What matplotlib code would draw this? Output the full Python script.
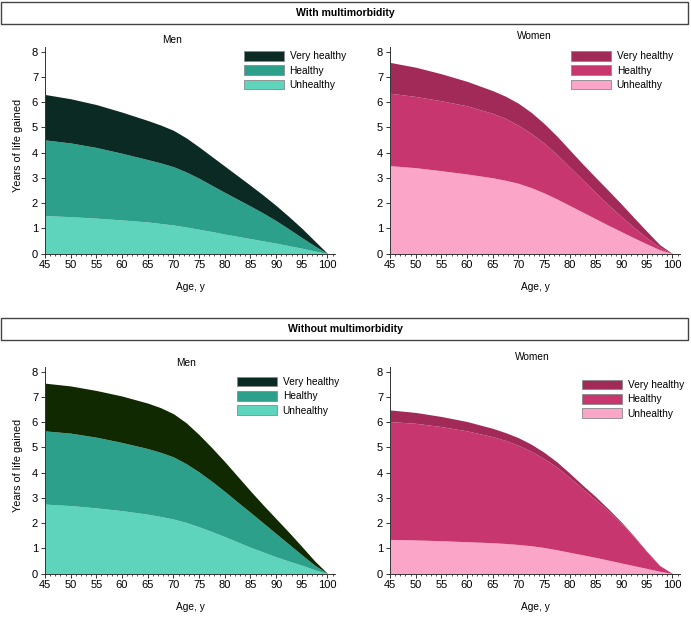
import matplotlib
matplotlib.use("Agg")
import matplotlib.pyplot as plt
from matplotlib.patches import Patch, Rectangle
from matplotlib.ticker import MultipleLocator

plt.rcParams["font.family"] = ["Liberation Sans", "DejaVu Sans"]

ages = [45, 50, 55, 60, 65, 67.5, 70, 72.5, 75, 77.5, 80, 82.5, 85, 87.5, 90, 92.5, 95, 97.5, 100]
categories = ["Very healthy", "Healthy", "Unhealthy"]

# years of life gained: upper edge of each band (unhealthy, + healthy, + very healthy)
men_mm_unhealthy = [1.50, 1.46, 1.40, 1.33, 1.25, 1.19, 1.13, 1.05, 0.96, 0.87, 0.77, 0.68, 0.59, 0.50, 0.41, 0.31, 0.21, 0.10, 0]
men_mm_healthy = [4.50, 4.38, 4.20, 3.97, 3.72, 3.59, 3.44, 3.23, 2.98, 2.70, 2.42, 2.15, 1.88, 1.60, 1.30, 0.97, 0.63, 0.30, 0]
men_mm_total = [6.30, 6.13, 5.90, 5.60, 5.27, 5.09, 4.88, 4.58, 4.22, 3.84, 3.46, 3.08, 2.70, 2.31, 1.90, 1.46, 1.00, 0.50, 0]

women_mm_unhealthy = [3.48, 3.40, 3.28, 3.15, 3.00, 2.90, 2.78, 2.61, 2.40, 2.16, 1.90, 1.64, 1.38, 1.12, 0.87, 0.62, 0.38, 0.15, 0]
women_mm_healthy = [6.35, 6.22, 6.05, 5.85, 5.55, 5.35, 5.08, 4.76, 4.37, 3.92, 3.42, 2.92, 2.42, 1.93, 1.47, 1.03, 0.62, 0.25, 0]
women_mm_total = [7.57, 7.38, 7.12, 6.82, 6.45, 6.23, 5.95, 5.59, 5.15, 4.65, 4.10, 3.55, 3.02, 2.50, 1.97, 1.42, 0.88, 0.35, 0]

men_nomm_unhealthy = [2.75, 2.69, 2.60, 2.49, 2.35, 2.26, 2.16, 2.02, 1.85, 1.66, 1.46, 1.25, 1.04, 0.85, 0.66, 0.49, 0.33, 0.15, 0]
men_nomm_healthy = [5.65, 5.56, 5.40, 5.19, 4.95, 4.80, 4.62, 4.35, 4.02, 3.65, 3.25, 2.83, 2.42, 2.00, 1.58, 1.16, 0.74, 0.33, 0]
men_nomm_total = [7.54, 7.43, 7.25, 7.03, 6.75, 6.57, 6.33, 5.97, 5.50, 4.98, 4.43, 3.85, 3.27, 2.71, 2.17, 1.63, 1.07, 0.50, 0]

women_nomm_unhealthy = [1.35, 1.33, 1.30, 1.26, 1.22, 1.19, 1.15, 1.10, 1.03, 0.94, 0.84, 0.74, 0.64, 0.53, 0.42, 0.31, 0.20, 0.09, 0]
women_nomm_healthy = [6.02, 5.95, 5.82, 5.65, 5.42, 5.27, 5.08, 4.84, 4.55, 4.21, 3.80, 3.36, 2.93, 2.48, 2.00, 1.45, 0.86, 0.31, 0]
women_nomm_total = [6.48, 6.38, 6.22, 6.02, 5.75, 5.58, 5.38, 5.12, 4.80, 4.42, 3.97, 3.50, 3.05, 2.56, 2.05, 1.48, 0.88, 0.32, 0]

men_colors = ["#0c2a24", "#2ca08a", "#5fd4bc"]
men_colors_nomm = ["#102900", "#2ca08a", "#5fd4bc"]
women_colors = ["#a12a58", "#c8366f", "#fba5c8"]

W, H = 691, 619
fig = plt.figure(figsize=(W / 100, H / 100), dpi=100)

FS = 7.3


def px_rect(x, y_top, w, h):
    return [x / W, 1 - (y_top + h) / H, w / W, h / H]


def panel(rect, title, title_xy, unhealthy, healthy, total, fill_cols, leg_cols, leg_xy, ylabel):
    ax = fig.add_axes(rect)
    ax.fill_between(ages, 0, unhealthy, color=fill_cols[2], linewidth=0)
    ax.fill_between(ages, unhealthy, healthy, color=fill_cols[1], linewidth=0)
    ax.fill_between(ages, healthy, total, color=fill_cols[0], linewidth=0)
    ax.set_xlim(45, 101.5)
    ax.set_ylim(0, 8.2)
    ax.set_xticks(range(45, 101, 5))
    ax.xaxis.set_minor_locator(MultipleLocator(1))
    ax.set_yticks(range(0, 9))
    for s in ["top", "right"]:
        ax.spines[s].set_visible(False)
    for s in ["left", "bottom"]:
        ax.spines[s].set_linewidth(0.7)
        ax.spines[s].set_color("#333333")
    ax.tick_params(which="major", length=3, width=0.7, color="#333333",
                   labelsize=8, pad=2)
    ax.tick_params(which="minor", length=1.6, width=0.6, color="#333333")
    ax.set_xlabel("Age, y", fontsize=FS, va="center")
    ax.xaxis.set_label_coords(0.5, -34 / 207)
    if ylabel:
        ax.set_ylabel("Years of life gained", fontsize=7.8, va="center")
        ax.yaxis.set_label_coords(-27 / 290, 0.52)
    fig.text(title_xy[0] / W, 1 - title_xy[1] / H, title, fontsize=FS,
             ha="center", va="center")
    handles = [Patch(facecolor=c, edgecolor="#8a8a8a", linewidth=0.6) for c in leg_cols]
    ax.legend(handles, categories, loc="upper left",
              bbox_to_anchor=(leg_xy[0] / W, 1 - leg_xy[1] / H),
              bbox_transform=fig.transFigure, frameon=False, fontsize=FS,
              handlelength=3.9, handleheight=1.1, handletextpad=0.6,
              labelspacing=0.4, borderpad=0, borderaxespad=0)
    return ax


panel(px_rect(45, 46.5, 290.2, 207), "Men", (172, 40),
      men_mm_unhealthy, men_mm_healthy, men_mm_total, men_colors, men_colors,
      (244, 51), True)
panel(px_rect(390, 46.5, 290.2, 207), "Women", (534, 36),
      women_mm_unhealthy, women_mm_healthy, women_mm_total, women_colors, women_colors,
      (571, 51), False)
panel(px_rect(45, 366.5, 290.2, 207), "Men", (186, 363),
      men_nomm_unhealthy, men_nomm_healthy, men_nomm_total, men_colors_nomm, men_colors,
      (237, 376.5), True)
panel(px_rect(390, 366.5, 290.2, 207), "Women", (532, 357),
      women_nomm_unhealthy, women_nomm_healthy, women_nomm_total, women_colors, women_colors,
      (582, 379.5), False)

# section header boxes
for y_top, label in [(2, "With multimorbidity"), (318, "Without multimorbidity")]:
    fig.patches.append(Rectangle((1 / W, 1 - (y_top + 22) / H), 687 / W, 22 / H,
                                 transform=fig.transFigure, facecolor="white",
                                 edgecolor="#444444", linewidth=1.0))
    fig.text(0.5, 1 - (y_top + 11) / H, label, fontsize=7.6, fontweight="bold",
             ha="center", va="center")

fig.savefig("out.png", dpi=100)
